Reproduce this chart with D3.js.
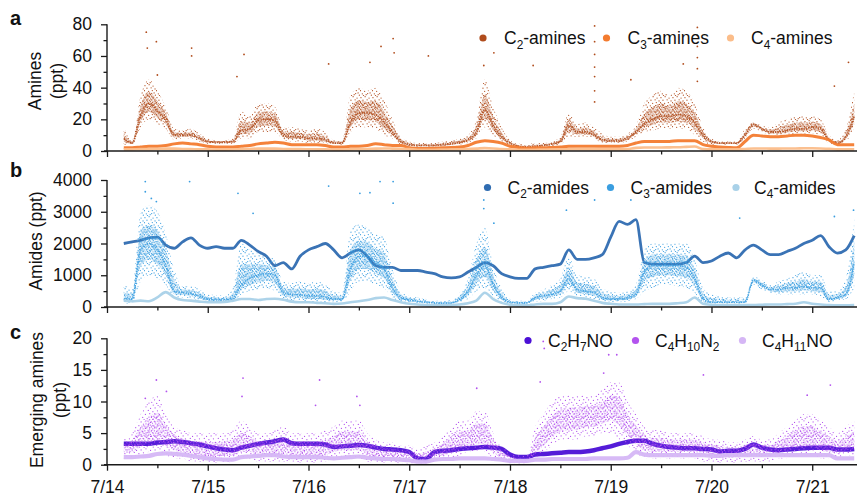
<!DOCTYPE html>
<html>
<head>
<meta charset="utf-8">
<script src="https://cdn.jsdelivr.net/npm/d3@7"></script>
<style>
  body { margin: 0; background: #fff; }
  svg { display: block; font-family: "Liberation Sans", Arial, sans-serif; }
</style>
</head>
<body>
<svg id="chart" width="857" height="496"></svg>
<script>
// ---- time base: one sample every 2 h, first sample 7/14 04:00 ----
const day0 = new Date(2021, 6, 14);
const firstSampleHour = 4;
const stepHours = 2;
const dayLabels = ["7/14", "7/15", "7/16", "7/17", "7/18", "7/19", "7/20", "7/21"];

// ---- panel a: amines (ppt) ----
const c2AminesMid = [8,5,22,30,25,20,10,10,10,8,
  6,5.5,5.5,6,13,14,19,20,19,10,9,9,
  8,8,7,5,5,18,24,24,23,18,12,6,
  4,3.5,3.5,3.5,4,4.5,5.5,7,12,26,16,9,
  5,3,2.5,3,3.5,4.5,6,16,12,12,10,7,
  6.5,6.5,8,12,17,20,22,22,23,22,18,10,
  6,5,5,5,10,17,14,12,12,13,14,14,
  15,14,7,5,9,22];
const c2AminesLo = [4,4,15,20,17,14,7,8,8,6,
  4.5,4.5,4.5,4.5,8,8,12,12,12,7,6,6,
  5,5,5,4,4,12,15,15,14,10,8,4,
  3,2.5,2.5,2.5,3,3.5,4,5,8,15,10,6,
  4,2,2,2,2.5,3,4,8,9,9,8,5,
  5,5,6,9,12,13,14,14,14,14,10,6,
  4,4,4,4,8,14,12,10,10,10,11,11,
  11,10,5,4,6,14];
const c2AminesHi = [15,7,35,45,38,28,14,13,14,11,
  8,7,7,8,25,22,30,30,28,15,15,14,
  13,14,12,7,7,35,40,38,40,32,20,9,
  6,5,5,5,6,7,8,10,20,45,28,15,
  7,4.5,4,5,5,6,9,24,17,18,15,11,
  9,9,11,16,30,35,38,35,40,38,30,15,
  8,6,6,6,14,18,16,15,18,20,22,22,
  22,20,10,7,14,38];
const c2AminesSpikes = [[0.39,75],[0.40,65],[0.49,69],[0.50,48],[0.84,65],[0.84,60],[1.29,47],[1.36,61],
  [2.20,55],[2.61,56],[2.72,66],[2.84,71],[2.85,62],[3.19,60],[3.74,54],[3.84,62],[4.23,54],
  [4.84,31],[4.84,38],[4.84,47],[4.84,53],[4.84,61],[4.84,69],[4.84,79],[5.20,45],[5.72,55],
  [5.86,44],[5.86,52],[5.86,59],[5.86,66],[5.86,73],[5.86,78],[7.22,41],[7.36,56]];
const c3Amines = [2,2,2.5,3,3,3.5,4.5,5,4.5,4,
  3,2.5,2.5,2.5,3,3.5,4.5,5,5.5,5,4,4,
  4,4,3.5,2.5,2.5,3,3,3.5,4.5,4,3.5,3.5,
  2,1.5,1.5,1.8,2,2.2,2.5,3.5,5.5,6.5,6,5,
  3,2.2,1.8,2,2,2.2,2.5,3,3,3,3,3,
  3,3,3.5,5,6,6,6,6,6.5,6.5,6.5,4,
  3,2.5,2.2,2,6,10,9.5,9,9,9.5,10,10,
  9.5,8.5,7,4,4,4];
const c4Amines = [1,1,1.2,1.2,1.3,1.5,1.5,1.3,1.2,1,
  1,0.9,0.9,1,1.2,1.3,1.5,1.5,1.5,1.3,1.2,1.2,
  1.1,1,1,0.9,0.9,1,1.2,1.3,1.5,1.6,1.5,1.4,
  1.2,0.8,0.8,0.8,0.9,1,1.1,1.3,1.5,1.8,1.6,1.2,
  1,0.8,0.7,0.8,0.9,1,1,1.1,1.2,1.2,1.2,1.1,
  1,1,1.2,2,2.2,2.2,2.2,2.3,2.4,2.6,2.8,1.2,
  1,1,1,1,1.3,1.6,1.6,1.5,1.5,1.6,1.6,1.7,
  1.7,1.6,1.4,1,1,1];

// ---- panel b: amides (ppt) ----
const c2Amides = [2000,2050,2100,2180,2200,1950,1850,2050,2180,1950,
  1850,1900,1850,1850,2100,1950,1750,1600,1300,1400,1200,1600,
  1800,1900,2000,1800,1550,1700,1800,1600,1300,1250,1250,1150,
  1150,1150,1100,1050,950,920,950,1100,1250,1400,1300,1050,
  950,900,900,1200,1250,1300,1350,1800,1500,1500,1550,1650,
  2200,2700,2600,2750,1400,1350,1350,1350,1350,1400,1600,1400,
  1450,1600,1700,1550,1800,1950,1800,1650,1650,1750,1850,2000,
  2100,2250,1900,1700,1800,2250];
const c3AmidesMid = [250,250,1800,2000,1800,1300,500,450,420,350,
  250,220,220,280,700,900,1000,1050,1000,450,400,380,
  350,350,320,250,250,1200,1600,1600,1400,1200,600,300,
  220,180,150,130,120,130,250,500,1000,1300,700,300,
  150,130,130,300,350,400,500,900,550,500,450,300,
  250,250,300,400,1100,1300,1300,1300,1300,1250,900,250,
  150,150,150,150,150,850,700,550,550,600,600,650,
  600,600,250,300,400,1400];
const c3AmidesLo = [100,100,800,1000,900,700,300,300,280,200,
  150,150,150,150,400,500,550,600,500,250,200,200,
  150,150,150,150,150,500,800,800,700,600,300,150,
  120,100,100,80,80,80,120,250,500,600,350,150,
  80,80,80,150,200,250,300,500,350,300,250,180,
  150,150,180,250,500,600,700,700,650,600,450,120,
  100,100,100,100,100,700,550,450,400,400,400,400,
  400,350,150,200,250,600];
const c3AmidesHi = [700,600,3000,3200,3000,2300,1200,650,650,550,
  400,380,350,600,2000,1800,1700,1600,1500,800,750,800,
  750,800,700,500,450,2400,2600,2500,2300,2200,1200,500,
  350,300,250,200,200,220,450,900,2000,2500,1300,600,
  250,200,200,450,550,700,900,1600,1000,950,900,600,
  500,450,500,700,1800,2000,2000,2000,2000,2000,1500,600,
  400,350,300,300,300,950,850,700,800,900,1000,1100,
  1000,1000,500,500,900,2800];
const c3AmidesSpikes = [[0.38,3950],[0.38,3630],[0.44,3420],[0.49,3320],[0.82,3950],[1.30,3580],[1.45,2950],
  [2.20,3810],[2.51,3580],[2.61,3600],[2.71,3950],[2.84,3950],[2.84,3270],[3.74,3370],[3.74,3100],
  [3.84,2640],[4.56,3050],[4.84,3370],[5.20,3370],[5.85,3580],[6.28,2800],[7.22,2850],[7.41,3050]];
const c4Amides = [200,180,200,180,300,470,300,220,200,170,
  150,150,160,200,250,250,220,250,260,230,170,150,
  150,130,120,100,110,150,180,220,280,300,220,150,
  100,80,60,50,50,60,80,120,200,450,250,130,
  70,50,50,80,100,100,150,330,280,260,200,130,
  100,80,80,80,90,100,100,100,120,150,300,100,
  70,60,60,60,60,60,70,80,80,90,100,150,
  100,80,60,50,50,60];

// ---- panel c: emerging amines (ppt) ----
const c2h7no = [3.3,3.3,3.3,3.3,3.5,3.6,3.7,3.6,3.4,3.2,
  2.9,2.6,2.4,2.3,2.7,3.0,3.3,3.5,3.7,4.0,3.4,3.3,
  3.3,3.3,3.2,2.8,2.9,3.0,3.1,3.0,2.7,2.5,2.4,2.3,
  2.0,1.0,0.9,2.0,2.2,2.3,2.5,2.6,2.7,2.8,2.7,2.5,
  1.6,1.2,1.2,1.6,1.7,1.8,1.9,2.0,2.0,2.1,2.3,2.6,
  2.9,3.3,3.6,3.8,3.8,3.3,3.0,2.8,2.7,2.6,2.6,2.5,
  2.4,2.1,2.2,2.2,2.5,3.2,2.7,2.4,2.3,2.4,2.5,2.6,
  2.7,2.7,2.7,2.4,2.4,2.5];
const c4h10n2Mid = [2.5,3,4,5,5.5,4.5,3.5,3,2.5,2.5,
  2.2,2.2,2.5,2.5,3,3,2.5,2.5,2.5,2.8,2.5,2.3,
  2.3,2.3,2.5,3,3.5,3.5,3.5,2.5,2,1.8,1.8,1.5,
  1.5,1,1.2,1.8,2.2,3,3.5,4,4.5,4.5,3,1.5,
  1,0.7,0.7,2.5,4,5.5,6.5,7,7,7.5,7.5,8,
  9,8.5,6,4.5,3.5,3,3,3,3,3,3,2.5,
  2.2,2,2,2,2.2,2.5,2.2,2.2,2.8,3.2,3.8,4.2,
  4.2,3.5,3,2.5,3,3.5];
const c4h10n2Lo = [1,1,1.5,2,2,1.5,1,1,0.5,0.5,
  0.3,0.3,0.3,0.5,1,1,0.5,0.5,0.5,0.5,0.5,0.3,
  0.3,0.3,0.5,1,1,1,1,0.5,0.3,0.3,0.3,0.2,
  0.2,0.2,0.2,0.5,0.8,1,1.5,2,2,2,1,0.5,
  0.2,0.2,0.2,1,2,3,4,4,4,4.5,4.5,5,
  5,4,3,2,1,1,1,1,1,1,1,0.5,
  0.5,0.3,0.3,0.3,0.5,0.5,0.5,0.5,1,1,1.5,1.5,
  1.5,1,1,1,1.5,1.5];
const c4h10n2Hi = [4,5,8,10,11,8,6,5.5,5,5,
  5,5,5,5.5,7,6,5,5,5.5,6,5,5,
  5,5,5.5,6,7,7,7,5,4,3.5,3.5,3,
  3,2.5,3,3.5,4.5,6,7,7,8.5,8.5,5,3,
  2,1.5,1.5,6,8,10,11,11,11,11,11,12,
  13,13,10,8,6,5.5,5.5,5,5,5,5,4.5,
  4,4,3.5,3.5,4,4.5,4,4,5,6,7,8,
  8,7,6,5,6,7];
const c4h10n2Spikes = [[0.49,13.4],[0.59,11.6],[0.38,10.5],[1.35,13.7],[1.34,10.8],[2.11,13.4],[2.48,10.8],
  [2.07,9.4],[2.51,9.4],[3.67,12.1],[4.33,19.5],[4.34,18.4],[4.30,13.1],[4.98,17.4],[5.06,17.4],
  [4.93,14.5],[5.92,14.2],[7.18,12.6],[6.95,11.0]];
const c4h11no = [1.2,1.2,1.3,1.4,1.7,1.8,1.7,1.6,1.4,1.2,
  1.0,0.9,0.8,0.8,1.2,1.3,1.4,1.5,1.5,1.3,1.2,1.2,
  1.2,1.2,1.1,1.0,1.1,1.2,1.3,1.1,1.0,0.9,0.9,0.8,
  0.7,0.5,0.5,0.8,0.9,0.9,1.0,1.0,1.0,1.0,0.9,0.8,
  0.6,0.6,0.6,0.8,0.8,0.9,0.9,0.9,0.9,0.9,1.0,1.0,
  1.0,1.0,1.1,2.0,1.6,1.5,1.5,1.5,1.5,1.5,1.5,1.5,
  1.4,1.4,1.5,1.5,1.5,1.5,1.5,1.5,1.5,1.5,1.5,1.5,
  1.5,1.5,1.5,1.0,1.0,1.0];

// ---- helpers ----
const sampleTime = i => d3.timeHour.offset(day0, firstSampleHour + i * stepHours);
const dayTime = d => new Date(day0.getTime() + d * 864e5);
const toPoints = arr => arr.map((v, i) => ({ t: sampleTime(i), v }));
const toBand = (lo, mid, hi) => mid.map((m, i) => ({ t: sampleTime(i), lo: lo[i], mid: m, hi: hi[i] }));

const svg = d3.select("#chart");
const defs = svg.append("defs");
const xLeft = 107, xRight = 857;
const x = d3.scaleTime()
  .domain([day0, new Date(2021, 6, 21, 10, 40)])
  .range([xLeft, xRight]);

const dayTicks = dayLabels.map((_, i) => dayTime(i));
const noonTicks = dayLabels.map((_, i) => dayTime(i + 0.5));

// speckle texture (15x15 unit tile) that renders the scattered part of noisy series
const speckles = [[1.2,2.1],[6.4,0.9],[11.3,2.6],[3.7,5.2],[8.9,4.8],[13.8,6.1],[0.6,8.4],
  [5.8,9.1],[10.4,8.2],[2.9,12.3],[7.7,13.4],[12.6,11.1],[14.2,14.0],[9.6,11.9],[4.4,14.6]];
function speckle(id, color, size, r) {
  const p = defs.append("pattern").attr("id", id)
    .attr("patternUnits", "userSpaceOnUse").attr("width", size).attr("height", size);
  speckles.forEach(([px, py]) => p.append("circle")
    .attr("cx", px * size / 15).attr("cy", py * size / 15).attr("r", r).attr("fill", color));
  return `url(#${id})`;
}

function richText(sel, label, fs) {
  const parts = label.split(/(_\{[^}]*\})/).filter(s => s.length);
  let inSub = false;
  parts.forEach(p => {
    if (p.startsWith("_{")) {
      sel.append("tspan").attr("font-size", fs * 0.68).attr("dy", inSub ? 0 : fs * 0.28).text(p.slice(2, -1));
      inSub = true;
    } else {
      const t = sel.append("tspan").text(p);
      if (inSub) { t.attr("dy", -fs * 0.28); inSub = false; }
    }
  });
}

const panels = [
  {
    letter: "a", letterY: 25, top: 24.3, bottom: 151, max: 80, major: [0,20,40,60,80], minor: [10,30,50,70],
    title: [["Amines", 35], ["(ppt)", 57]], titleY: 81,
    legendY: 38, legend: [[483, 504], [606.5, 627.5], [730.5, 751]],
    series: [
      { name: "C_{2}-amines", color: "#b04c1c", band: toBand(c2AminesLo, c2AminesMid, c2AminesHi), spikes: c2AminesSpikes, width: 1.8 },
      { name: "C_{3}-amines", color: "#f37b2f", line: toPoints(c3Amines), width: 3 },
      { name: "C_{4}-amines", color: "#fbbd8a", line: toPoints(c4Amines), width: 2.6 }
    ]
  },
  {
    letter: "b", letterY: 177, top: 180, bottom: 307, max: 4000, major: [0,1000,2000,3000,4000], minor: [500,1500,2500,3500],
    title: [["Amides (ppt)", 36]], titleY: 241,
    legendY: 187.5, legend: [[487.5, 507.5], [610.5, 630.5], [736, 754]],
    series: [
      { name: "C_{2}-amides", color: "#2f6cb1", line: toPoints(c2Amides), width: 2.8 },
      { name: "C_{3}-amides", color: "#3a9ee0", band: toBand(c3AmidesLo, c3AmidesMid, c3AmidesHi), spikes: c3AmidesSpikes, width: 1.6 },
      { name: "C_{4}-amides", color: "#a9d1e8", line: toPoints(c4Amides), width: 2.6 }
    ]
  },
  {
    letter: "c", letterY: 339, top: 338.3, bottom: 464.7, max: 20, major: [0,5,10,15,20], minor: [2.5,7.5,12.5,17.5],
    title: [["Emerging amines", 37], ["(ppt)", 60]], titleY: 400,
    legendY: 340.5, legend: [[528, 548], [635.5, 655], [742.5, 762]],
    series: [
      { name: "C_{2}H_{7}NO", color: "#4b10d6", line: toPoints(c2h7no), width: 4.5 },
      { name: "C_{4}H_{10}N_{2}", color: "#b353ee", band: toBand(c4h10n2Lo, c4h10n2Mid, c4h10n2Hi), spikes: c4h10n2Spikes, width: 0, sparse: true },
      { name: "C_{4}H_{11}NO", color: "#d5b6f5", line: toPoints(c4h11no), width: 4.2 }
    ]
  }
];

const tickFont = 17.5, textFont = 17.5;

panels.forEach((P, pi) => {
  const y = d3.scaleLinear().domain([0, P.max]).range([P.bottom, P.top]);
  const g = svg.append("g");

  const clipId = "clip" + pi;
  defs.append("clipPath").attr("id", clipId).append("rect")
    .attr("x", xLeft + 1).attr("y", P.top - 14).attr("width", xRight - xLeft).attr("height", P.bottom - P.top + 14);
  const plot = g.append("g").attr("clip-path", `url(#${clipId})`);

  const line = d3.line().x(d => x(d.t)).y(d => y(d.v)).curve(d3.curveMonotoneX);

  P.series.forEach((s, si) => {
    if (s.band) {
      const outer = d3.area().x(d => x(d.t)).y0(d => y(d.lo)).y1(d => y(d.hi)).curve(d3.curveMonotoneX);
      const inner = d3.area().x(d => x(d.t))
        .y0(d => y((d.lo + d.mid) / 2)).y1(d => y((d.hi + d.mid) / 2)).curve(d3.curveMonotoneX);
      plot.append("path").attr("d", outer(s.band))
        .attr("fill", speckle(`sp${pi}${si}o`, s.color, s.sparse ? 14 : 12, 0.62));
      plot.append("path").attr("d", inner(s.band))
        .attr("fill", speckle(`sp${pi}${si}i`, s.color, s.sparse ? 9.5 : 7.5, 0.68));
      if (s.width > 0) {
        plot.append("path").attr("d", line(s.band.map(d => ({ t: d.t, v: d.mid }))))
          .attr("fill", "none").attr("stroke", s.color).attr("stroke-width", s.width)
          .attr("stroke-dasharray", "1.4 1").attr("opacity", 0.85);
      }
      plot.selectAll(null).data(s.spikes).join("circle")
        .attr("cx", d => x(dayTime(d[0]))).attr("cy", d => y(d[1])).attr("r", 0.9)
        .attr("fill", s.color);
    } else {
      plot.append("path").attr("d", line(s.line))
        .attr("fill", "none").attr("stroke", s.color).attr("stroke-width", s.width)
        .attr("stroke-linejoin", "round").attr("opacity", 0.95);
    }
  });

  // axes
  const yMajor = d3.axisLeft(y).tickValues(P.major).tickSize(6).tickPadding(9).tickFormat(d3.format("d"));
  const yMinor = d3.axisLeft(y).tickValues(P.minor).tickSize(3.5).tickFormat("");
  const ya = g.append("g").attr("transform", `translate(${xLeft},0)`).call(yMajor);
  const ym = g.append("g").attr("transform", `translate(${xLeft},0)`).call(yMinor);
  const xMajor = d3.axisBottom(x).tickValues(dayTicks).tickSize(6).tickPadding(10)
    .tickFormat((d, i) => pi === 2 ? dayLabels[i] : "");
  const xMinor = d3.axisBottom(x).tickValues(noonTicks).tickSize(3.5).tickFormat("");
  const xa = g.append("g").attr("transform", `translate(0,${P.bottom})`).call(xMajor);
  const xm = g.append("g").attr("transform", `translate(0,${P.bottom})`).call(xMinor);
  [ya, ym, xa, xm].forEach(a => {
    a.select(".domain").remove();
    a.selectAll(".tick line").attr("stroke", "#1a1a1a").attr("stroke-width", 1.3);
    a.selectAll(".tick text").attr("fill", "#111").attr("font-size", tickFont)
      .attr("font-family", "Liberation Sans, Arial, sans-serif");
  });
  g.append("line").attr("x1", xLeft).attr("x2", xLeft).attr("y1", P.bottom).attr("y2", P.top)
    .attr("stroke", "#1a1a1a").attr("stroke-width", 1.4);
  g.append("line").attr("x1", xLeft - 3).attr("x2", xRight).attr("y1", P.bottom).attr("y2", P.bottom)
    .attr("stroke", "#1a1a1a").attr("stroke-width", 1.4);

  // axis title
  P.title.forEach(([txt, cx]) => {
    g.append("text").attr("transform", `translate(${cx},${P.titleY}) rotate(-90)`)
      .attr("text-anchor", "middle").attr("dominant-baseline", "central")
      .attr("font-size", textFont).attr("fill", "#111").text(txt);
  });

  // panel letter
  g.append("text").attr("x", 10).attr("y", P.letterY).attr("font-size", 20).attr("font-weight", "bold")
    .attr("fill", "#111").text(P.letter);

  // legend
  P.series.forEach((s, si) => {
    const [cx, tx] = P.legend[si];
    g.append("circle").attr("cx", cx).attr("cy", P.legendY).attr("r", 3.6).attr("fill", s.color);
    const t = g.append("text").attr("x", tx).attr("y", P.legendY + 6)
      .attr("font-size", textFont).attr("fill", "#111");
    richText(t, s.name, textFont);
  });
});
</script>
</body>
</html>
